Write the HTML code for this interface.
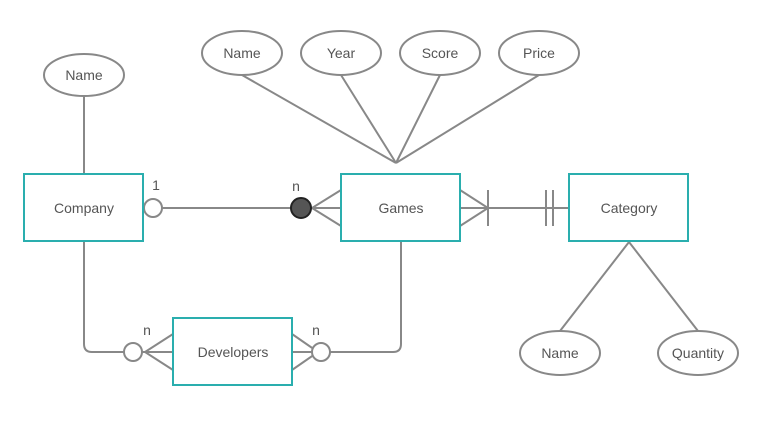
<!DOCTYPE html>
<html><head><style>body{margin:0;background:#fff}svg{display:block}text{font-family:"Liberation Sans",sans-serif;fill:#555;font-size:14px}</style></head><body>
<svg width="780" height="425" viewBox="0 0 780 425">
<g stroke="#888" stroke-width="2" fill="none">
<line x1="84" y1="96" x2="84" y2="174"/>
<line x1="242" y1="75" x2="396" y2="163"/>
<line x1="341" y1="75" x2="396" y2="163"/>
<line x1="440" y1="75" x2="396" y2="163"/>
<line x1="539" y1="75" x2="396" y2="163"/>
<line x1="629" y1="242" x2="560" y2="331"/>
<line x1="629" y1="242" x2="698" y2="331"/>
<line x1="162" y1="208" x2="341" y2="208"/>
<path d="M341 190 L312 208 L341 226"/>
<line x1="460" y1="208" x2="569" y2="208"/>
<path d="M460 190 L488 208 L460 226"/>
<line x1="488" y1="190" x2="488" y2="226"/>
<line x1="546" y1="190" x2="546" y2="226"/>
<line x1="553" y1="190" x2="553" y2="226"/>
<path d="M84 241 V344 Q84 352 92 352 H124"/>
<line x1="142" y1="352" x2="173" y2="352"/>
<path d="M173 334 L145 352 L173 370"/>
<line x1="292" y1="352" x2="312" y2="352"/>
<path d="M292 334 L318 352 L292 370"/>
<path d="M330 352 H393 Q401 352 401 344 V241"/>
<circle cx="153" cy="208" r="9" fill="#fff"/>
<circle cx="321" cy="352" r="9" fill="#fff"/>
<circle cx="133" cy="352" r="9" fill="#fff"/>
<ellipse cx="84" cy="75" rx="40" ry="21" fill="#fff"/>
<ellipse cx="242" cy="53" rx="40" ry="22" fill="#fff"/>
<ellipse cx="341" cy="53" rx="40" ry="22" fill="#fff"/>
<ellipse cx="440" cy="53" rx="40" ry="22" fill="#fff"/>
<ellipse cx="539" cy="53" rx="40" ry="22" fill="#fff"/>
<ellipse cx="560" cy="353" rx="40" ry="22" fill="#fff"/>
<ellipse cx="698" cy="353" rx="40" ry="22" fill="#fff"/>
</g>
<circle cx="301" cy="208" r="10" fill="#555" stroke="#222" stroke-width="2"/>
<g stroke="#2aaeae" stroke-width="2" fill="#fff">
<rect x="24" y="174" width="119" height="67"/>
<rect x="341" y="174" width="119" height="67"/>
<rect x="569" y="174" width="119" height="67"/>
<rect x="173" y="318" width="119" height="67"/>
</g>
<g text-anchor="middle">
<text x="84" y="80">Name</text>
<text x="242" y="58">Name</text>
<text x="341" y="58">Year</text>
<text x="440" y="58">Score</text>
<text x="539" y="58">Price</text>
<text x="560" y="358">Name</text>
<text x="698" y="358">Quantity</text>
<text x="84" y="213">Company</text>
<text x="401" y="213">Games</text>
<text x="629" y="213">Category</text>
<text x="233" y="357">Developers</text>
<text x="156" y="190">1</text>
<text x="296" y="191">n</text>
<text x="147" y="335">n</text>
<text x="316" y="335">n</text>
</g>
</svg>
</body></html>
